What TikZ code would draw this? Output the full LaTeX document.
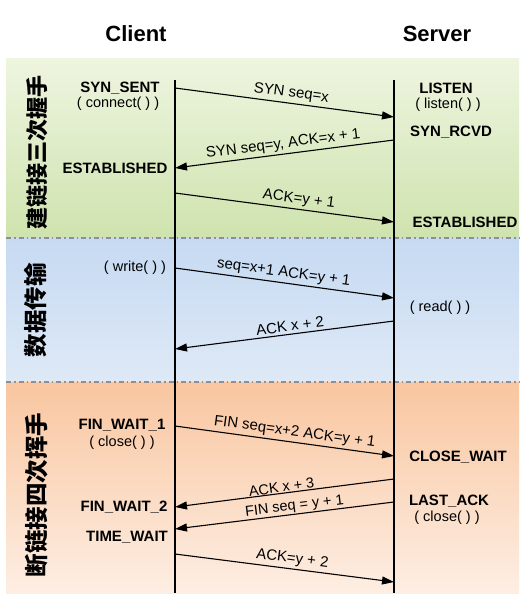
\documentclass[tikz,border=0pt]{standalone}
\usepackage{fontspec}
\setmainfont{Liberation Sans}
\newfontfamily\cjk{Noto Sans CJK SC}
\usetikzlibrary{arrows.meta}
\definecolor{gtop}{HTML}{EEF5E0}
\definecolor{gbot}{HTML}{CFE3AE}
\definecolor{btop}{HTML}{C6DAF2}
\definecolor{bbot}{HTML}{DEE9F6}
\definecolor{otop}{HTML}{F9C6A0}
\definecolor{obot}{HTML}{FDEEE3}
\definecolor{sepc}{HTML}{8A8F9A}
\begin{document}
\begin{tikzpicture}[x=1pt,y=-1pt,
 state/.style={font=\fontsize{15}{17}\selectfont\bfseries, inner sep=0pt},
 call/.style={font=\fontsize{14.5}{17}\selectfont, inner sep=0pt},
 msg/.style={draw=black, line width=1.1pt, -{Triangle[length=12pt,width=8pt]}},
 lbl/.style={font=\fontsize{15}{17}\selectfont, sloped, above, inner sep=2.5pt},
 tightlbl/.style={lbl, font=\fontsize{14.5}{16}\selectfont, inner xsep=0pt, inner ysep=0.5pt},
 sepline/.style={draw=sepc, line width=1.2pt, dash pattern=on 5pt off 3pt on 1.5pt off 3pt},
 lifeline/.style={draw=black, line width=1.3pt},
 phase/.style={font=\cjk\bfseries\fontsize{22}{24}\selectfont, rotate=90, inner sep=0pt},
 title/.style={font=\fontsize{22}{26}\selectfont\bfseries}]
\useasboundingbox (0,0) rectangle (523,605);
\fill[white] (0,0) rectangle (523,605);
% bands
\shade[top color=gtop, bottom color=gbot] (6,58) rectangle (519,238);
\shade[top color=btop, bottom color=bbot] (6,238) rectangle (519,382);
\shade[top color=otop, bottom color=obot] (6,382) rectangle (519,593);
\draw[sepline] (6,238) -- (519,238);
\draw[sepline] (6,382) -- (519,382);
% titles
\node[title] (client) at (136,34) {Client};
\node[title] (server) at (437,34) {Server};
% lifelines
\coordinate (ctop) at (175,80);
\coordinate (cbot) at (175,593);
\coordinate (stop) at (394,80);
\coordinate (sbot) at (394,593);
\draw[lifeline] (ctop) -- (cbot);
\draw[lifeline] (stop) -- (sbot);
% phase labels
\node[phase] (p1) at (37,152) {建链接三次握手};
\node[phase, font=\cjk\bfseries\fontsize{23.5}{25}\selectfont] (p2) at (36,310) {数据传输};
\node[phase, font=\cjk\bfseries\fontsize{23.5}{25}\selectfont] (p3) at (37,495) {断链接四次挥手};
% client states
\node[state] (synsent) at (120,88) {SYN\_SENT};
\node[call] (connect) at (118,104) {( connect( ) )};
\node[state] (cest) at (115,168) {ESTABLISHED};
\node[call] (write) at (135,268) {( write( ) )};
\node[state] (fw1) at (122,425) {FIN\_WAIT\_1};
\node[call] (cclose) at (122,443) {( close( ) )};
\node[state] (fw2) at (124,507) {FIN\_WAIT\_2};
\node[state] (tw) at (127,537) {TIME\_WAIT};
% server states
\node[state] (listen) at (446,88) {LISTEN};
\node[call] (listenc) at (448,105) {( listen( ) )};
\node[state] (synrcvd) at (451,132) {SYN\_RCVD};
\node[state] (sest) at (465,222) {ESTABLISHED};
\node[call] (read) at (440,308) {( read( ) )};
\node[state] (cw) at (458,457) {CLOSE\_WAIT};
\node[state] (lack) at (449,501) {LAST\_ACK};
\node[call] (sclose) at (447,518) {( close( ) )};
% message end points
\coordinate (c1) at (175,88);  \coordinate (s1) at (394,117);
\coordinate (s2) at (394,140); \coordinate (c2) at (175,168);
\coordinate (c3) at (175,193); \coordinate (s3) at (394,222);
\coordinate (c4) at (175,268); \coordinate (s4) at (394,298);
\coordinate (s5) at (394,321); \coordinate (c5) at (175,349);
\coordinate (c6) at (175,426); \coordinate (s6) at (394,456);
\coordinate (s7) at (394,479); \coordinate (c7) at (175,507);
\coordinate (s8) at (394,502); \coordinate (c8) at (175,529);
\coordinate (c9) at (175,554); \coordinate (s9) at (394,582);
% messages
\draw[msg] (c1) -- node[lbl, pos=0.525] {SYN seq=x} (s1);
\draw[msg] (s2) -- node[lbl, pos=0.50] {SYN seq=y, ACK=x + 1} (c2);
\draw[msg] (c3) -- node[lbl, pos=0.56] {ACK=y + 1} (s3);
\draw[msg] (c4) -- node[lbl, pos=0.49] {seq=x+1 ACK=y + 1} (s4);
\draw[msg] (s5) -- node[lbl, pos=0.47] {ACK x + 2} (c5);
\draw[msg] (c6) -- node[lbl, pos=0.54] {FIN seq=x+2 ACK=y + 1} (s6);
\draw[msg] (s7) -- node[tightlbl, pos=0.51] {ACK x + 3} (c7);
\draw[msg] (s8) -- node[tightlbl, pos=0.45] {FIN seq = y + 1} (c8);
\draw[msg] (c9) -- node[lbl, pos=0.53] {ACK=y + 2} (s9);
\end{tikzpicture}
\end{document}
